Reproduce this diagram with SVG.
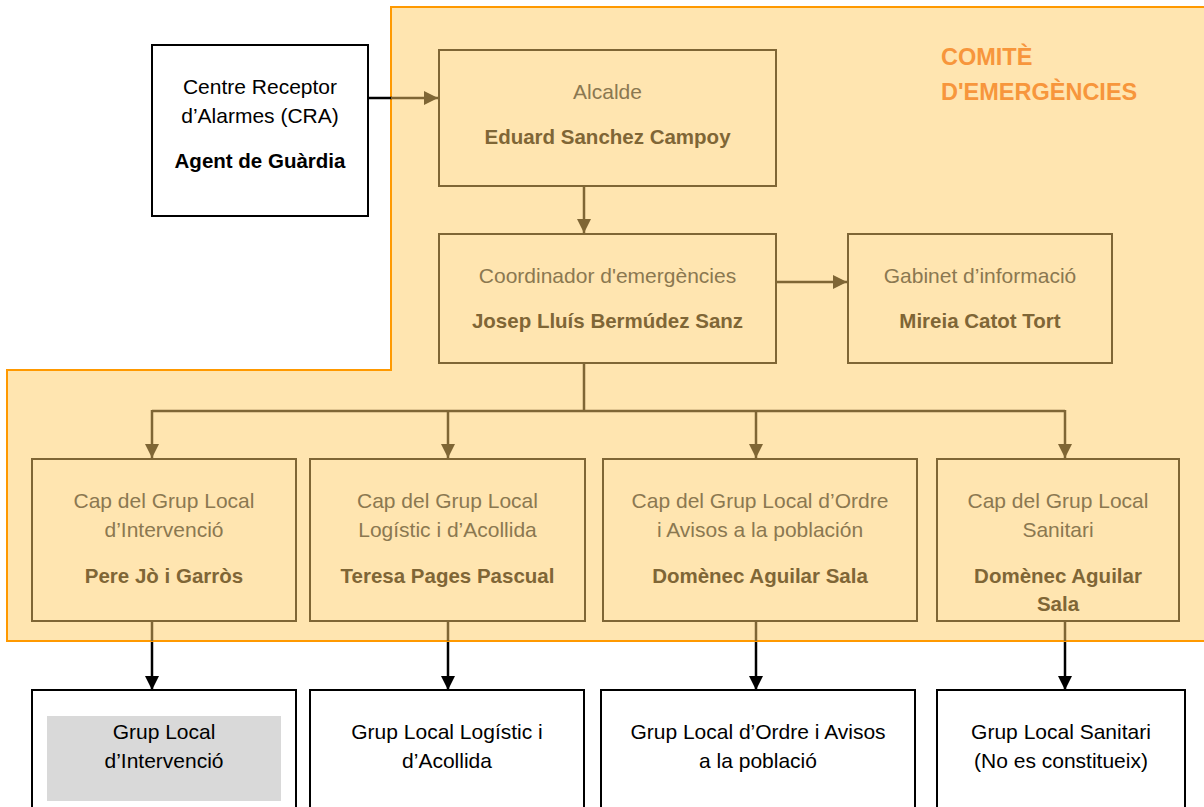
<svg xmlns="http://www.w3.org/2000/svg" width="1204" height="807" viewBox="0 0 1204 807">
<defs>
<style>
text{font-family:"Liberation Sans",Arial,sans-serif;text-anchor:middle}
.r{font-size:21px;fill:#8B7850}
.b{font-size:20.5px;font-weight:bold;fill:#7F6636}
.rk{font-size:21px;fill:#000}
.bk{font-size:20.5px;font-weight:bold;fill:#000}
.bx{fill:#FFE5B0;stroke:#7F6635;stroke-width:2}
.wb{fill:#fff;stroke:#000;stroke-width:2}
.cb{fill:none;stroke:#7F6635;stroke-width:2.5}
.ck{fill:none;stroke:#000;stroke-width:2.5}
</style>
<marker id="ab" markerUnits="userSpaceOnUse" markerWidth="14" markerHeight="14" viewBox="0 0 14 14" refX="14" refY="7" orient="auto"><path d="M0,0 L14,7 L0,14 z" fill="#7F6635"/></marker>
<marker id="ak" markerUnits="userSpaceOnUse" markerWidth="14" markerHeight="14" viewBox="0 0 14 14" refX="14" refY="7" orient="auto"><path d="M0,0 L14,7 L0,14 z" fill="#000"/></marker>
</defs>
<rect width="1204" height="807" fill="#fff"/>
<g id="comite">
<path d="M1210,7 L391,7 L391,370 L7,370 L7,641 L1210,641" fill="#FFE5B0" stroke="#FF9900" stroke-width="2"/>
<text x="941" y="65" style="text-anchor:start;font-size:23.5px;font-weight:bold;fill:#F7963C">COMITÈ</text>
<text x="941" y="100" style="text-anchor:start;font-size:23.5px;font-weight:bold;fill:#F7963C">D'EMERGÈNCIES</text>
</g>
<g id="connectors">
<path class="ck" d="M368,98 L392,98"/>
<path class="cb" d="M391,98 L438,98" marker-end="url(#ab)"/>
<path class="cb" d="M584,186 L584,233" marker-end="url(#ab)"/>
<path class="cb" d="M776,282 L847,282" marker-end="url(#ab)"/>
<path class="cb" d="M584,363 L584,411 M152,411 L1065,411"/>
<path class="cb" d="M152,410 L152,458" marker-end="url(#ab)"/>
<path class="cb" d="M448,410 L448,458" marker-end="url(#ab)"/>
<path class="cb" d="M756,410 L756,458" marker-end="url(#ab)"/>
<path class="cb" d="M1065,410 L1065,458" marker-end="url(#ab)"/>
<path class="cb" d="M152,621 L152,641 M448,621 L448,641 M756,621 L756,641 M1065,621 L1065,641"/>
<path class="ck" d="M152,642 L152,690" marker-end="url(#ak)"/>
<path class="ck" d="M448,642 L448,690" marker-end="url(#ak)"/>
<path class="ck" d="M756,642 L756,690" marker-end="url(#ak)"/>
<path class="ck" d="M1065,642 L1065,690" marker-end="url(#ak)"/>
</g>
<g id="cra">
<rect class="wb" x="152" y="45" width="216" height="171"/>
<text class="rk" x="260" y="94">Centre Receptor</text>
<text class="rk" x="260" y="123">d’Alarmes (CRA)</text>
<text class="bk" x="260" y="168">Agent de Guàrdia</text>
</g>
<g id="alcalde">
<rect class="bx" x="439" y="50" width="337" height="136"/>
<text class="r" x="607.5" y="99">Alcalde</text>
<text class="b" x="607.5" y="144">Eduard Sanchez Campoy</text>
</g>
<g id="coordinador">
<rect class="bx" x="439" y="234" width="337" height="129"/>
<text class="r" x="607.5" y="283">Coordinador d'emergències</text>
<text class="b" x="607.5" y="328">Josep Lluís Bermúdez Sanz</text>
</g>
<g id="gabinet">
<rect class="bx" x="848" y="234" width="264" height="129"/>
<text class="r" x="980" y="283">Gabinet d’informació</text>
<text class="b" x="980" y="328">Mireia Catot Tort</text>
</g>
<g id="cap-intervencio">
<rect class="bx" x="32" y="459" width="264" height="162"/>
<text class="r" x="164" y="508">Cap del Grup Local</text>
<text class="r" x="164" y="537">d’Intervenció</text>
<text class="b" x="164" y="583">Pere Jò i Garròs</text>
</g>
<g id="cap-logistic">
<rect class="bx" x="310" y="459" width="275" height="162"/>
<text class="r" x="447.5" y="508">Cap del Grup Local</text>
<text class="r" x="447.5" y="537">Logístic i d’Acollida</text>
<text class="b" x="447.5" y="583">Teresa Pages Pascual</text>
</g>
<g id="cap-ordre">
<rect class="bx" x="603" y="459" width="314" height="162"/>
<text class="r" x="760" y="508">Cap del Grup Local d’Ordre</text>
<text class="r" x="760" y="537">i Avisos a la población</text>
<text class="b" x="760" y="583">Domènec Aguilar Sala</text>
</g>
<g id="cap-sanitari">
<rect class="bx" x="937" y="459" width="242" height="162"/>
<text class="r" x="1058" y="508">Cap del Grup Local</text>
<text class="r" x="1058" y="537">Sanitari</text>
<text class="b" x="1058" y="583">Domènec Aguilar</text>
<text class="b" x="1058" y="611">Sala</text>
</g>
<g id="grup-intervencio">
<rect class="wb" x="32" y="690" width="264" height="130"/>
<rect x="47" y="716" width="234" height="85" fill="#D9D9D9"/>
<text class="rk" x="164" y="739">Grup Local</text>
<text class="rk" x="164" y="768">d’Intervenció</text>
</g>
<g id="grup-logistic">
<rect class="wb" x="310" y="690" width="274" height="130"/>
<text class="rk" x="447" y="739">Grup Local Logístic i</text>
<text class="rk" x="447" y="768">d’Acollida</text>
</g>
<g id="grup-ordre">
<rect class="wb" x="601" y="690" width="314" height="130"/>
<text class="rk" x="758" y="739">Grup Local d’Ordre i Avisos</text>
<text class="rk" x="758" y="768">a la població</text>
</g>
<g id="grup-sanitari">
<rect class="wb" x="937" y="690" width="248" height="130"/>
<text class="rk" x="1061" y="739">Grup Local Sanitari</text>
<text class="rk" x="1061" y="768">(No es constitueix)</text>
</g>
</svg>
